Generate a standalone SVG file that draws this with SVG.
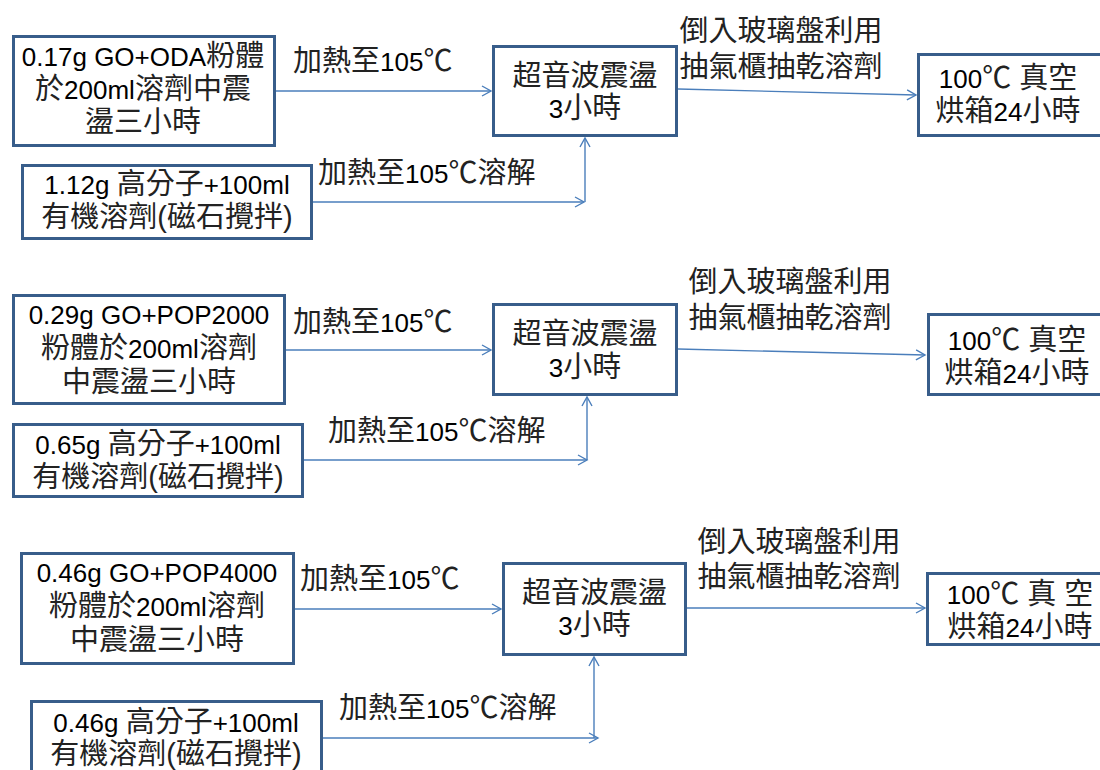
<svg xmlns="http://www.w3.org/2000/svg" width="1100" height="770" viewBox="0 0 1100 770">
<defs>
<marker id="arr" markerUnits="userSpaceOnUse" markerWidth="12" markerHeight="12" viewBox="0 0 12 12" refX="10" refY="6" orient="auto">
<path d="M1,1 L10,6 L1,11" fill="none" stroke="#4A7EBB" stroke-width="1.4"/>
</marker>
<style>
.box{fill:#fff;stroke:#385D8A;stroke-width:3}
.t{font-family:"Liberation Sans","Noto Sans CJK TC",sans-serif;font-size:29px;fill:#222}
.m{text-anchor:middle}
.n{font-size:26px;fill:#000}
.c{stroke:#4A7EBB;stroke-width:1.4;fill:none;marker-end:url(#arr)}
</style>
</defs>
<rect width="1100" height="770" fill="#fff"/>

<g id="connectors">
<line class="c" x1="276" y1="91" x2="491" y2="91"/>
<line class="c" x1="313" y1="202" x2="584" y2="202"/>
<line class="c" x1="585" y1="202" x2="585" y2="138"/>
<line class="c" x1="678" y1="89" x2="916" y2="95"/>
<line class="c" x1="286" y1="350" x2="491" y2="350"/>
<line class="c" x1="304" y1="460" x2="587" y2="460"/>
<line class="c" x1="587" y1="460" x2="587" y2="397"/>
<line class="c" x1="678" y1="349" x2="925" y2="355"/>
<line class="c" x1="295" y1="609" x2="501" y2="609"/>
<line class="c" x1="323" y1="738" x2="598" y2="738"/>
<line class="c" x1="594" y1="738" x2="594" y2="657"/>
<line class="c" x1="687" y1="608" x2="925" y2="608"/>
<text class="t" x="293" y="71">加熱至<tspan class="n">105</tspan>℃</text>
<text class="t" x="318" y="183">加熱至<tspan class="n">105</tspan>℃溶解</text>
<text class="t m" x="781" y="41">倒入玻璃盤利用</text>
<text class="t m" x="781" y="77">抽氣櫃抽乾溶劑</text>
<text class="t" x="293" y="332">加熱至<tspan class="n">105</tspan>℃</text>
<text class="t" x="328" y="441">加熱至<tspan class="n">105</tspan>℃溶解</text>
<text class="t m" x="790" y="292">倒入玻璃盤利用</text>
<text class="t m" x="790" y="328">抽氣櫃抽乾溶劑</text>
<text class="t" x="300" y="589">加熱至<tspan class="n">105</tspan>℃</text>
<text class="t" x="339" y="718">加熱至<tspan class="n">105</tspan>℃溶解</text>
<text class="t m" x="799" y="552">倒入玻璃盤利用</text>
<text class="t m" x="799" y="587">抽氣櫃抽乾溶劑</text>
</g>

<g id="a1">
<rect class="box" x="13.5" y="36.5" width="261" height="109"/>
<text class="t m" x="143" y="66"><tspan class="n">0.17g GO+ODA</tspan>粉體</text>
<text class="t m" x="143" y="99">於<tspan class="n">200ml</tspan>溶劑中震</text>
<text class="t m" x="143" y="132">盪三小時</text>
</g>
<g id="b1">
<rect class="box" x="22.5" y="165.5" width="289" height="73"/>
<text class="t m" x="167" y="194"><tspan class="n">1.12g </tspan>高分子<tspan class="n">+100ml</tspan></text>
<text class="t m" x="167" y="227">有機溶劑(磁石攪拌)</text>
</g>
<g id="c1">
<rect class="box" x="493.5" y="46.5" width="183" height="89"/>
<text class="t m" x="585" y="86">超音波震盪</text>
<text class="t m" x="585" y="118"><tspan class="n">3</tspan>小時</text>
</g>
<g id="d1">
<rect class="box" x="918.5" y="54.5" width="200" height="81"/>
<text class="t m" x="1008" y="88"><tspan class="n">100</tspan>℃ 真空</text>
<text class="t m" x="1008" y="121">烘箱<tspan class="n">24</tspan>小時</text>
</g>

<g id="a2">
<rect class="box" x="13.5" y="295.5" width="271" height="108"/>
<text class="t m" x="149" y="324"><tspan class="n">0.29g GO+POP2000</tspan></text>
<text class="t m" x="149" y="358">粉體於<tspan class="n">200ml</tspan>溶劑</text>
<text class="t m" x="149" y="392">中震盪三小時</text>
</g>
<g id="b2">
<rect class="box" x="13.5" y="424.5" width="289" height="72"/>
<text class="t m" x="158" y="454"><tspan class="n">0.65g </tspan>高分子<tspan class="n">+100ml</tspan></text>
<text class="t m" x="158" y="487">有機溶劑(磁石攪拌)</text>
</g>
<g id="c2">
<rect class="box" x="493.5" y="304.5" width="183" height="90"/>
<text class="t m" x="585" y="344">超音波震盪</text>
<text class="t m" x="585" y="377"><tspan class="n">3</tspan>小時</text>
</g>
<g id="d2">
<rect class="box" x="928.5" y="314.5" width="200" height="80"/>
<text class="t m" x="1017" y="350"><tspan class="n">100</tspan>℃ 真空</text>
<text class="t m" x="1017" y="383">烘箱<tspan class="n">24</tspan>小時</text>
</g>

<g id="a3">
<rect class="box" x="21.5" y="553.5" width="272" height="110"/>
<text class="t m" x="157" y="582"><tspan class="n">0.46g GO+POP4000</tspan></text>
<text class="t m" x="157" y="616">粉體於<tspan class="n">200ml</tspan>溶劑</text>
<text class="t m" x="157" y="650">中震盪三小時</text>
</g>
<g id="b3">
<rect class="box" x="31.5" y="701.5" width="290" height="90"/>
<text class="t m" x="176" y="732"><tspan class="n">0.46g </tspan>高分子<tspan class="n">+100ml</tspan></text>
<text class="t m" x="176" y="764">有機溶劑(磁石攪拌)</text>
</g>
<g id="c3">
<rect class="box" x="503.5" y="563.5" width="182" height="91"/>
<text class="t m" x="594.5" y="603">超音波震盪</text>
<text class="t m" x="594.5" y="635"><tspan class="n">3</tspan>小時</text>
</g>
<g id="d3">
<rect class="box" x="927.5" y="573.5" width="200" height="71"/>
<text class="t m" x="1020" y="604"><tspan class="n">100</tspan>℃ 真 空</text>
<text class="t m" x="1020" y="637">烘箱<tspan class="n">24</tspan>小時</text>
</g>
</svg>
